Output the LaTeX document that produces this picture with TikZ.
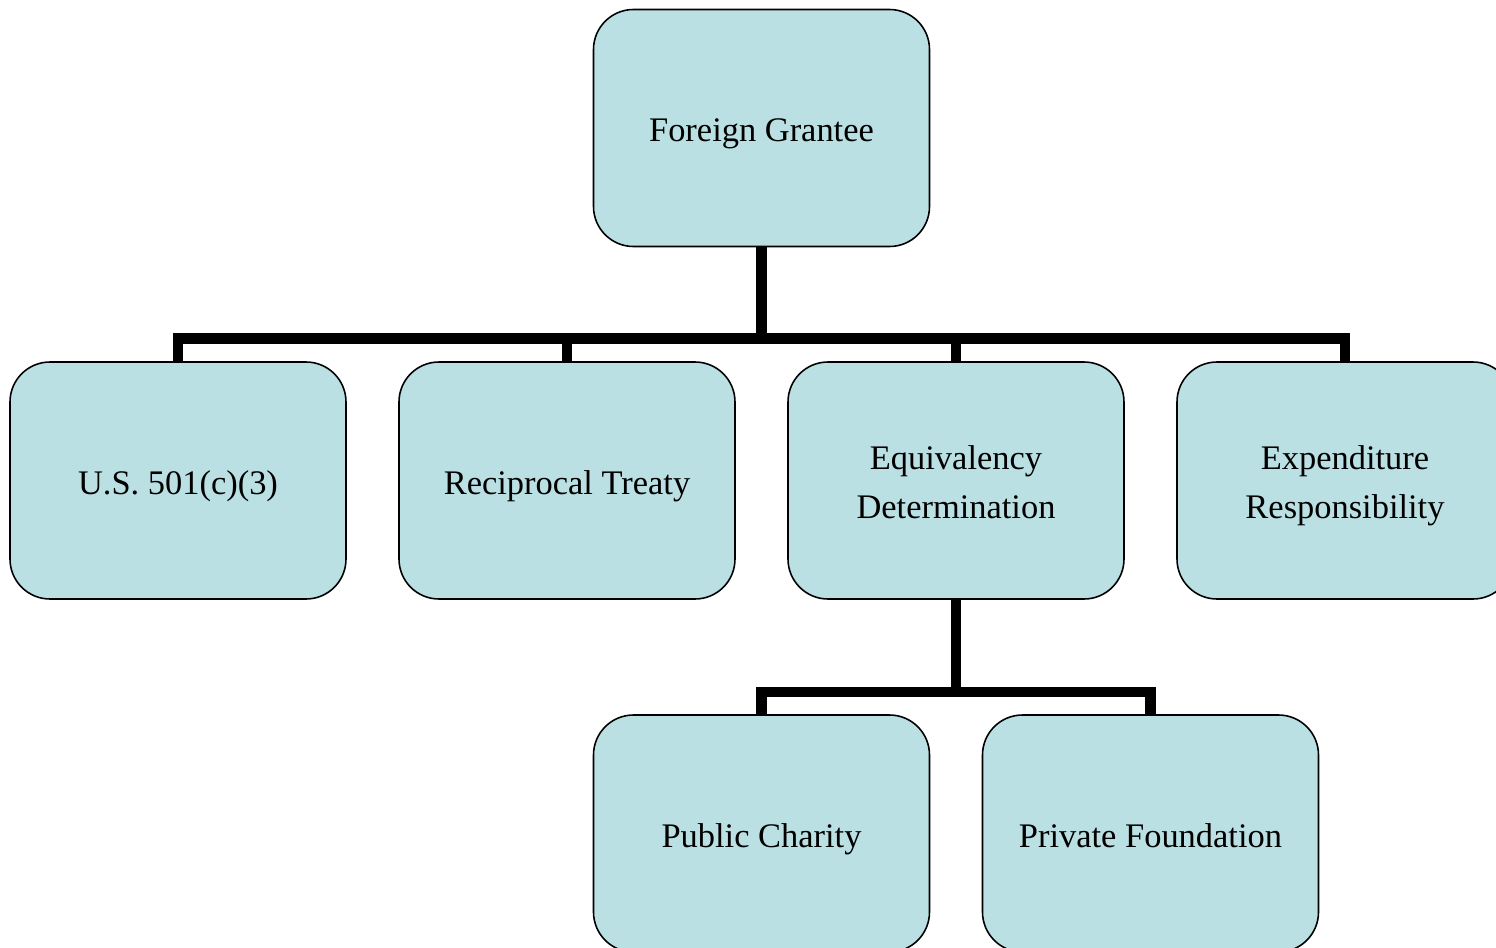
\documentclass[tikz,border=0pt]{standalone}
\usepackage{fontspec}
\setmainfont{Liberation Serif}
\usepackage{xcolor}
\usepackage{tikz}
\usetikzlibrary{positioning}
\definecolor{boxblue}{RGB}{186,224,227}
\newcommand{\boxstrut}{\rule[-0.22em]{0pt}{1.24em}}
\newcommand{\toprow}{\rule{0pt}{19.5pt}}

\begin{document}
\begin{tikzpicture}[
                    box/.style = {draw, line width=0.9pt, fill=boxblue, rounded corners=0.8cm,
                                  minimum width=6.72cm, minimum height=4.74cm, align=center,
                                  inner sep=0pt, outer sep=0pt, font=\fontsize{19.6}{28}\selectfont,
                                  execute at begin node=\boxstrut, execute at end node=\boxstrut},
                    link/.style = {line width=6pt, line join=miter},
                    node distance = 1.06cm]
                \path[use as bounding box, clip] (0,0) rectangle (29.92,-18.96);
                \node[box] (grantee) at (15.23,-2.56) {Foreign Grantee};
                \node[box] (usc) at (3.56,-9.61) {U.S. 501(c)(3)};
                \node[box, right=of usc] (treaty) {Reciprocal Treaty};
                \node[box, right=of treaty] (equiv) {\toprow Equivalency\\Determination};
                \node[box, right=of equiv] (expend) {\toprow Expenditure\\Responsibility};
                \node[box] (charity) at (15.23,-16.67) {Public Charity};
                \node[box, right=of charity] (foundation) {Private Foundation};
                \coordinate (hubtop) at ([yshift=-1.84cm]grantee.south);
                \coordinate (hubeq) at ([yshift=-1.86cm]equiv.south);
                \foreach \kid in {usc,treaty,equiv,expend}
                    \draw[link] (grantee.south) -- (hubtop) -| (\kid.north);
                \foreach \kid in {charity,foundation}
                    \draw[link] (equiv.south) -- (hubeq) -| (\kid.north);
                \end{tikzpicture}
\end{document}
